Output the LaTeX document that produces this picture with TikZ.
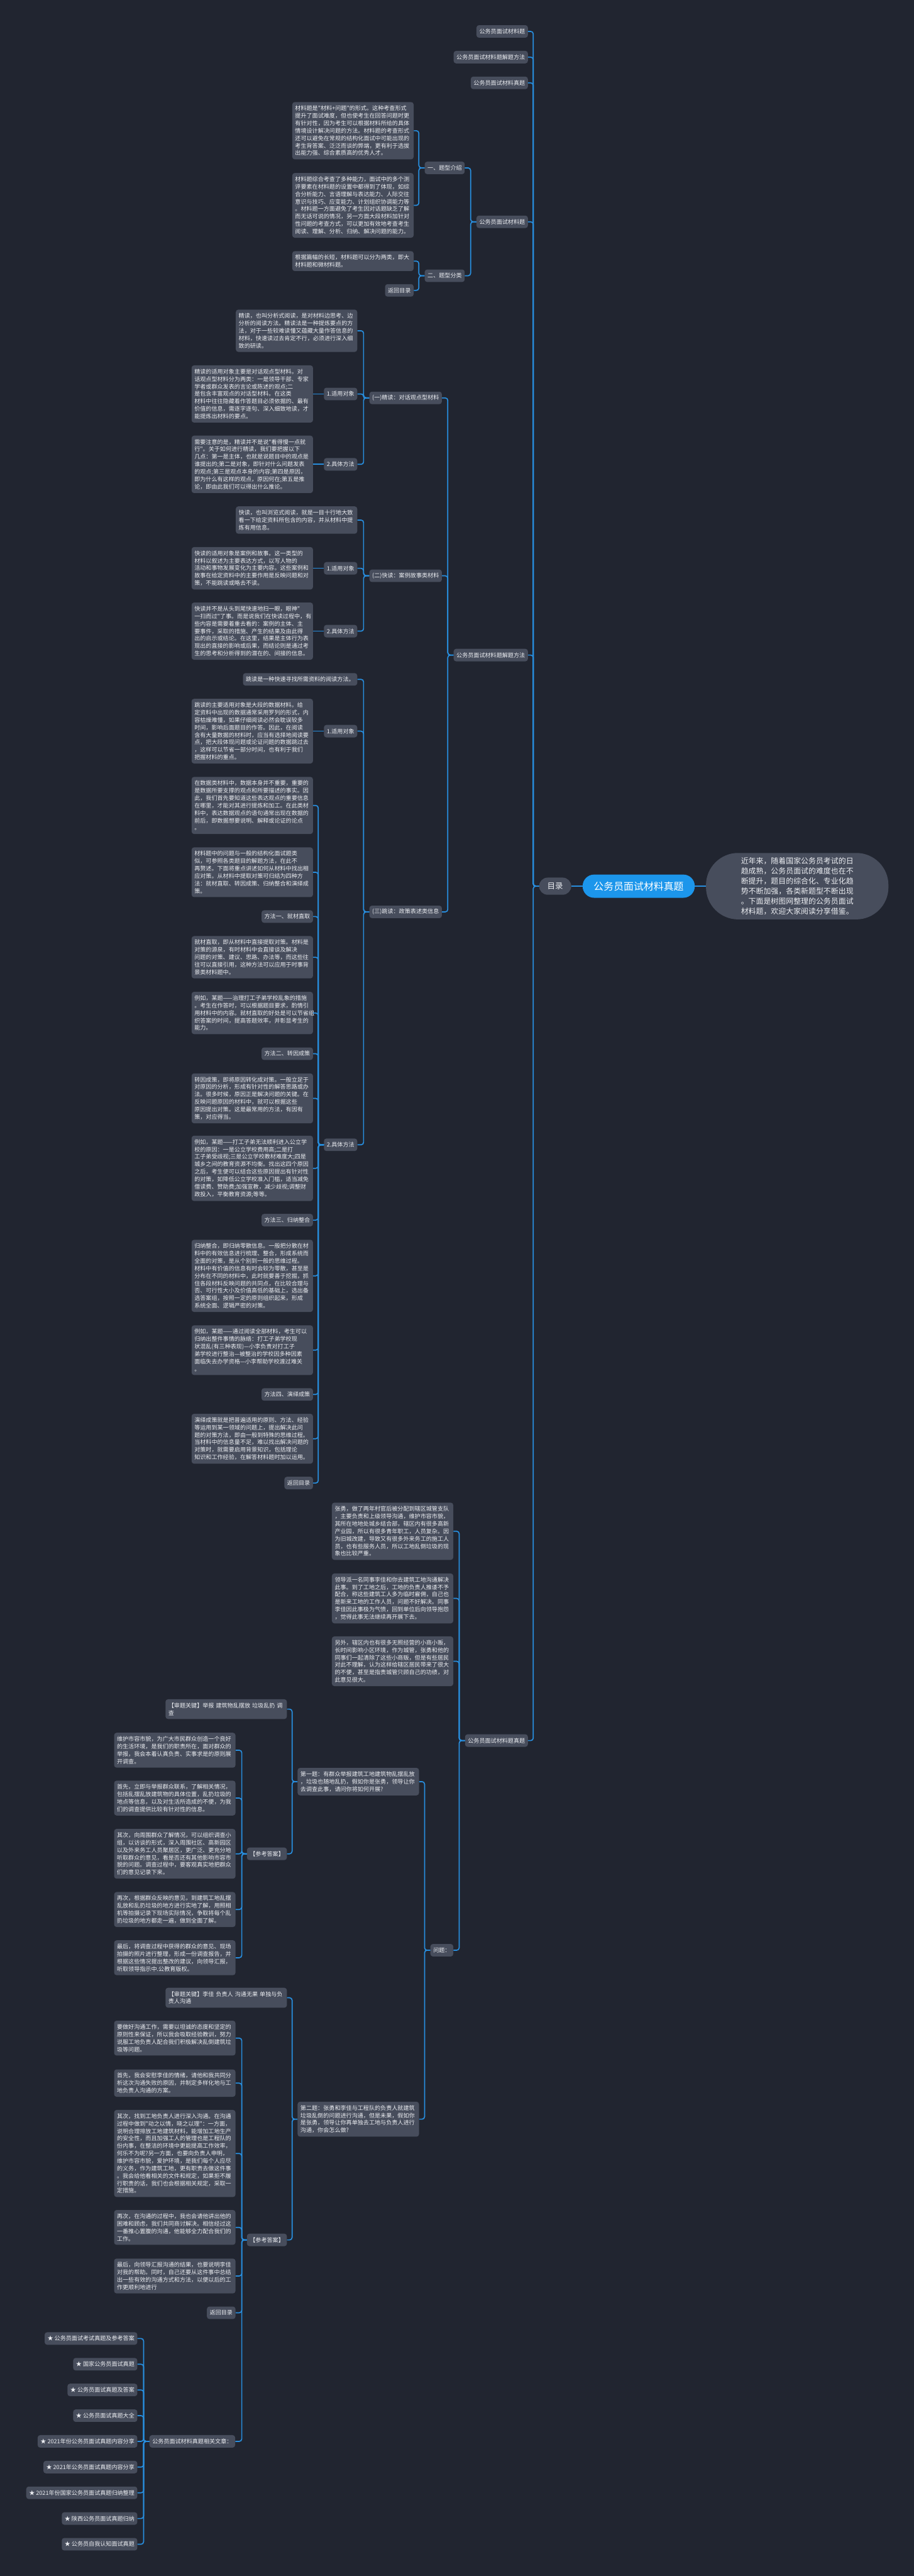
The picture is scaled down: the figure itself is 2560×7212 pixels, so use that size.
\documentclass[tikz,border=0pt]{standalone}
\usepackage{fontspec}
\newfontfamily\cjk{Noto Sans CJK SC}
\usetikzlibrary{positioning}
\definecolor{bgcol}{RGB}{33,37,48}
\definecolor{boxcol}{RGB}{71,77,92}
\definecolor{linkcol}{RGB}{40,142,222}
\definecolor{rootcol}{RGB}{28,150,235}
\definecolor{txtcol}{RGB}{236,238,242}

\begin{document}
\begin{tikzpicture}[x=0.5pt, y=-0.5pt,
    lab/.style = {fill=boxcol, text=txtcol, rounded corners=3.5pt, inner xsep=4pt, inner ysep=0pt, minimum height=17.5pt, font=\cjk\fontsize{8pt}{10.45pt}\selectfont},
    blk/.style = {lab, text width=162pt, align=left, inner ysep=5pt, minimum height=0pt},
    link/.style = {draw=linkcol, line width=1.5pt, rounded corners=3.5pt}]
                \tikzstyle{root} = [fill=rootcol, text=white, rounded corners=16pt, minimum height=32.5pt, inner xsep=15.5pt, font=\cjk\fontsize{14pt}{16pt}\selectfont]
                \tikzstyle{toc} = [fill=boxcol, text=txtcol, rounded corners=12pt, minimum height=24pt, inner xsep=11.5pt, font=\cjk\fontsize{11pt}{13pt}\selectfont]
                \tikzstyle{intro} = [fill=boxcol, text=txtcol, rounded corners=45pt, align=left, inner xsep=49pt, inner ysep=6.5pt, font=\cjk\fontsize{10.5pt}{14pt}\selectfont]

                \fill[bgcol] (0,0) rectangle (2560,7212);

                % centre: title, contents, introduction
                \node[root] (title) at (1789,2481) {公务员面试材料真题};
                \node[toc] (mulu) at (1555,2481) {目录};
                \node[intro] (desc) at (2233,2481) {近年来，随着国家公务员考试的日\\趋成熟，公务员面试的难度也在不\\断提升，题目的综合化、专业化趋\\势不断加强，各类新题型不断出现\\。下面是树图网整理的公务员面试\\材料题，欢迎大家阅读分享借鉴。};

                % contents entries
                \node[lab, anchor=east] (m1) at (1479,88) {公务员面试材料题};
                \node[lab, anchor=east] (m2) at (1479,160) {公务员面试材料题解题方法};
                \node[lab, anchor=east] (m3) at (1479,232) {公务员面试材料真题};
                \node[lab, anchor=east] (m4) at (1479,621) {公务员面试材料题};
                \node[lab, anchor=east] (m5) at (1479,1834) {公务员面试材料题解题方法};
                \node[lab, anchor=east] (m6) at (1479,4873) {公务员面试材料题真题};

                % question type
                \node[lab, anchor=east] (t1) at (1302,470) {一、题型介绍};
                \node[lab, anchor=east] (t2) at (1302,772) {二、题型分类};
                \node[blk, anchor=east] (a1) at (1159,366) {材料题是"材料+问题"的形式。这种考查形式\\提升了面试难度，但也使考生在回答问题时更\\有针对性，因为考生可以根据材料所给的具体\\情境设计解决问题的方法。材料题的考查形式\\还可以避免在常规的结构化面试中可能出现的\\考生背答案、泛泛而谈的弊端，更有利于选拔\\出能力强、综合素质高的优秀人才。};
                \node[blk, anchor=east] (a2) at (1159,575) {材料题综合考查了多种能力，面试中的多个测\\评要素在材料题的设置中都得到了体现，如综\\合分析能力、言语理解与表达能力、人际交往\\意识与技巧、应变能力、计划组织协调能力等\\。材料题一方面避免了考生因对话题缺乏了解\\而无话可说的情况，另一方面大段材料加针对\\性问题的考查方式，可以更加有效地考查考生\\阅读、理解、分析、归纳、解决问题的能力。};
                \node[blk, anchor=east] (a3) at (1159,731) {根据篇幅的长短，材料题可以分为两类，即大\\材料题和微材料题。};
                \node[lab, anchor=east] (a4) at (1159,813) {返回目录};

                % solving methods
                \node[lab, anchor=east] (j1) at (1238,1114) {(一)精读：对话观点型材料};
                \node[lab, anchor=east] (j2) at (1238,1612) {(二)快读：案例故事类材料};
                \node[lab, anchor=east] (j3) at (1238,2553) {(三)跳读：政策表述类信息};
                \node[blk, anchor=east] (b1) at (1001,926) {精读，也叫分析式阅读，是对材料边思考、边\\分析的阅读方法。精读法是一种提炼要点的方\\法，对于一些较难读懂又蕴藏大量作答信息的\\材料，快速读过去肯定不行，必须进行深入细\\致的研读。};
                \node[lab, anchor=east] (k1) at (1001,1103) {1.适用对象};
                \node[lab, anchor=east] (k2) at (1001,1300) {2.具体方法};
                \node[blk, anchor=east] (c1) at (877,1103) {精读的适用对象主要是对话观点型材料。对\\话观点型材料分为两类：一是领导干部、专家\\学者或群众发表的言论或陈述的观点;二\\是包含丰富观点的对话型材料。在这类\\材料中往往隐藏着作答题目必须依据的、最有\\价值的信息，需逐字逐句、深入细致地读，才\\能提炼出材料的要点。};
                \node[blk, anchor=east] (c2) at (877,1300) {需要注意的是，精读并不是说"看得慢一点就\\行"。关于如何进行精读，我们要把握以下\\几点：第一是主体，也就是说题目中的观点是\\谁提出的;第二是对象，即针对什么问题发表\\的观点;第三是观点本身的内容;第四是原因，\\即为什么有这样的观点，原因何在;第五是推\\论，即由此我们可以得出什么推论。};
                \node[blk, anchor=east] (b2) at (1001,1456) {快读，也叫浏览式阅读，就是一目十行地大致\\看一下给定资料所包含的内容，并从材料中提\\炼有用信息。};
                \node[lab, anchor=east] (k3) at (1001,1591) {1.适用对象};
                \node[lab, anchor=east] (k4) at (1001,1767) {2.具体方法};
                \node[blk, anchor=east] (c3) at (877,1591) {快读的适用对象是案例和故事。这一类型的\\材料以叙述为主要表达方式，以写人物的\\活动和事物发展变化为主要内容。这些案例和\\故事在给定资料中的主要作用是反映问题和对\\策，不能跳读或略去不读。};
                \node[blk, anchor=east] (c4) at (877,1767) {快读并不是从头到尾快速地扫一眼，眼神"\\一扫而过"了事。而是说我们在快读过程中，有\\些内容是需要着重去看的：案例的主体、主\\要事件，采取的措施、产生的结果及由此得\\出的启示或结论。在这里，结果是主体行为表\\现出的直接的影响或后果，而结论则是通过考\\生的思考和分析得到的潜在的、间接的信息。};
                \node[lab, anchor=east] (b3) at (1001,1902) {跳读是一种快速寻找所需资料的阅读方法。};
                \node[lab, anchor=east] (k5) at (1001,2047) {1.适用对象};
                \node[lab, anchor=east] (k6) at (1001,3205) {2.具体方法};
                \node[blk, anchor=east] (c5) at (877,2047) {跳读的主要适用对象是大段的数据材料。给\\定资料中出现的数据通常采用罗列的形式，内\\容枯燥难懂，如果仔细阅读必然会耽误较多\\时间，影响后面题目的作答。因此，在阅读\\含有大量数据的材料时，应当有选择地阅读要\\点，把大段体现问题或论证问题的数据跳过去\\，这样可以节省一部分时间，也有利于我们\\把握材料的重点。};
                \node[blk, anchor=east] (d1) at (877,2255) {在数据类材料中，数据本身并不重要，重要的\\是数据所要支撑的观点和所要描述的事实。因\\此，我们首先要知道这些表达观点的重要信息\\在哪里，才能对其进行提炼和加工。在此类材\\料中，表达数据观点的语句通常出现在数据的\\前后，即数据想要说明、解释或论证的论点\\。};
                \node[blk, anchor=east] (d2) at (877,2442) {材料题中的问题与一般的结构化面试题类\\似，可参照各类题目的解题方法，在此不\\再赘述。下面将重点讲述如何从材料中找出相\\应对策。从材料中提取对策可归结为四种方\\法：就材直取、转因成策、归纳整合和演绎成\\策。};
                \node[lab, anchor=east] (f1) at (877,2566) {方法一、就材直取};
                \node[blk, anchor=east] (d3) at (877,2680) {就材直取，即从材料中直接提取对策。材料是\\对策的源泉，有时材料中会直接谈及解决\\问题的对策、建议、思路、办法等，而这些往\\往可以直接引用，这种方法可以应用于时事背\\景类材料题中。};
                \node[blk, anchor=east] (d4) at (877,2836) {例如，某题——治理打工子弟学校乱象的措施\\。考生在作答时，可以根据题目要求，酌情引\\用材料中的内容。就材直取的好处是可以节省组\\织答案的时间，提高答题效率，并彰显考生的\\能力。};
                \node[lab, anchor=east] (f2) at (877,2950) {方法二、转因成策};
                \node[blk, anchor=east] (d5) at (877,3075) {转因成策，即将原因转化成对策。一般立足于\\对原因的分析，形成有针对性的解答思路或办\\法。很多时候，原因正是解决问题的关键。在\\反映问题原因的材料中，就可以根据这些\\原因提出对策。这是最常用的方法，有因有\\策，对应得当。};
                \node[blk, anchor=east] (d6) at (877,3271) {例如，某题——打工子弟无法顺利进入公立学\\校的原因：一是公立学校费用高;二是打\\工子弟受歧视;三是公立学校教材难度大;四是\\城乡之间的教育资源不均衡。找出这四个原因\\之后，考生便可以结合这些原因提出有针对性\\的对策，如降低公立学校准入门槛，适当减免\\借读费、赞助费;加强宣教，减少歧视;调整财\\政投入，平衡教育资源;等等。};
                \node[lab, anchor=east] (f3) at (877,3416) {方法三、归纳整合};
                \node[blk, anchor=east] (d7) at (877,3572) {归纳整合，即归纳零散信息。一般把分散在材\\料中的有效信息进行梳理、整合，形成系统而\\全面的对策，是从个别到一般的思维过程。\\材料中有价值的信息有时会较为零散，甚至是\\分布在不同的材料中，此时就要善于挖掘，抓\\住各段材料反映问题的共同点，在比较合理与\\否、可行性大小及价值高低的基础上，选出备\\选答案组，按照一定的原则组织起来，形成\\系统全面、逻辑严密的对策。};
                \node[blk, anchor=east] (d8) at (877,3780) {例如，某题——通过阅读全部材料，考生可以\\归纳出整件事情的脉络：打工子弟学校现\\状混乱(有三种表现)—小李负责对打工子\\弟学校进行整治—被整治的学校因多种因素\\面临失去办学资格—小李帮助学校渡过难关\\。};
                \node[lab, anchor=east] (f4) at (877,3904) {方法四、演绎成策};
                \node[blk, anchor=east] (d9) at (877,4028) {演绎成策就是把普遍适用的原则、方法、经验\\等运用到某一领域的问题上，提出解决此问\\题的对策方法，即由一般到特殊的思维过程。\\当材料中的信息量不足，难以找出解决问题的\\对策时，就需要启用背景知识，包括理论\\知识和工作经验，在解答材料题时加以运用。};
                \node[lab, anchor=east] (d10) at (877,4152) {返回目录};

                % real questions
                \node[blk, anchor=east] (z1) at (1270,4287) {张勇，做了两年村官后被分配到辖区城管支队\\，主要负责和上级领导沟通，维护市容市貌，\\其所在地地处城乡结合部，辖区内有很多高新\\产业园，所以有很多青年职工，人员复杂。因\\为旧城改建，导致又有很多外来务工的施工人\\员，也有些服务人员，所以工地乱倒垃圾的现\\象也比较严重。};
                \node[blk, anchor=east] (z2) at (1270,4475) {领导派一名同事李佳和你去建筑工地沟通解决\\此事。到了工地之后，工地的负责人推诿不予\\配合，称这些建筑工人多为临时雇佣，自己也\\是新来工地的工作人员，问题不好解决。同事\\李佳因此事极为气愤，回到单位后向领导抱怨\\，觉得此事无法继续再开展下去。};
                \node[blk, anchor=east] (z3) at (1270,4651) {另外，辖区内也有很多无照经营的小商小贩，\\长时间影响小区环境，作为城管，张勇和他的\\同事们一起清除了这些小商贩，但是有些居民\\对此不理解，认为这样给辖区居民带来了很大\\的不便，甚至是指责城管只顾自己的功绩，对\\此意见很大。};
                \node[lab, anchor=east] (q) at (1270,5460) {问题：};
                \node[blk, anchor=east] (w1) at (1174,4988) {第一题：有群众举报建筑工地建筑物乱摆乱放\\，垃圾也随地乱扔，假如你是张勇，领导让你\\去调查此事，请问你将如何开展?};
                \node[blk, anchor=east] (w2) at (1174,5933) {第二题：张勇和李佳与工程队的负责人就建筑\\垃圾乱倒的问题进行沟通，但是未果，假如你\\是张勇，领导让你再单独去工地与负责人进行\\沟通，你会怎么做?};
                \node[blk, anchor=east] (s1) at (804,4785) {【审题关键】举报 建筑物乱摆放 垃圾乱扔 调\\查};
                \node[lab, anchor=east] (r1) at (804,5190) {【参考答案】};
                \node[blk, anchor=east] (e1) at (660,4900) {维护市容市貌，为广大市民群众创造一个良好\\的生活环境，是我们的职责所在，面对群众的\\举报，我会本着认真负责、实事求是的原则展\\开调查。};
                \node[blk, anchor=east] (e2) at (660,5034) {首先，立即与举报群众联系，了解相关情况，\\包括乱摆乱放建筑物的具体位置，乱扔垃圾的\\地点等信息，以及对生活所造成的不便，为我\\们的调查提供比较有针对性的信息。};
                \node[blk, anchor=east] (e3) at (660,5190) {其次，向周围群众了解情况，可以组织调查小\\组，以访谈的形式，深入周围社区、高新园区\\以及外来务工人员聚居区，更广泛、更充分地\\听取群众的意见，看是否还有其他影响市容市\\貌的问题。调查过程中，要客观真实地把群众\\们的意见记录下来。};
                \node[blk, anchor=east] (e4) at (660,5346) {再次，根据群众反映的意见，到建筑工地乱摆\\乱放和乱扔垃圾的地方进行实地了解，用照相\\机等拍摄记录下现场实际情况，争取将每个乱\\扔垃圾的地方都走一遍，做到全面了解。};
                \node[blk, anchor=east] (e5) at (660,5481) {最后，将调查过程中获得的群众的意见、现场\\拍摄的照片进行整理，形成一份调查报告，并\\根据这些情况提出整改的建议，向领导汇报，\\听取领导指示中.公教育版权。};
                \node[blk, anchor=east] (s2) at (804,5593) {【审题关键】李佳 负责人 沟通无果 单独与负\\责人沟通};
                \node[lab, anchor=east] (r2) at (804,6271) {【参考答案】};
                \node[blk, anchor=east] (e6) at (660,5706) {要做好沟通工作，需要以坦诚的态度和坚定的\\原则性来保证，所以我会吸取经验教训，努力\\说服工地负责人配合我们积极解决乱倒建筑垃\\圾等问题。};
                \node[blk, anchor=east] (e7) at (660,5832) {首先，我会安慰李佳的情绪，请他和我共同分\\析这次沟通失败的原因，并制定多样化地与工\\地负责人沟通的方案。};
                \node[blk, anchor=east] (e8) at (660,6029) {其次，找到工地负责人进行深入沟通。在沟通\\过程中做到"动之以情，晓之以理"：一方面，\\说明合理排放工地建筑材料，能增加工地生产\\的安全性，而且加强工人的管理也是工程队的\\份内事，在整洁的环境中更能提高工作效率，\\何乐不为呢?另一方面，也要向负责人申明，\\维护市容市貌，爱护环境，是我们每个人应尽\\的义务，作为建筑工地，更有职责去做这件事\\。我会给他看相关的文件和规定，如果拒不履\\行职责的话，我们也会根据相关规定，采取一\\定措施。};
                \node[blk, anchor=east] (e9) at (660,6236) {再次，在沟通的过程中，我也会请他讲出他的\\困难和顾虑，我们共同商讨解决。相信经过这\\一番推心置腹的沟通，他能够全力配合我们的\\工作。};
                \node[blk, anchor=east] (e10) at (660,6372) {最后，向领导汇报沟通的结果，也要说明李佳\\对我的帮助。同时，自己还要从这件事中总结\\出一些有效的沟通方式和方法，以便以后的工\\作更顺利地进行};
                \node[lab, anchor=east] (g) at (660,6475) {返回目录};
                \node[lab, anchor=east] (h) at (659,6835) {公务员面试材料真题相关文章：};

                % related articles
                \node[lab, anchor=east] (x1) at (385,6547) {★ 公务员面试考试真题及参考答案};
                \node[lab, anchor=east] (x2) at (385,6619) {★ 国家公务员面试真题};
                \node[lab, anchor=east] (x3) at (385,6691) {★ 公务员面试真题及答案};
                \node[lab, anchor=east] (x4) at (385,6763) {★ 公务员面试真题大全};
                \node[lab, anchor=east] (x5) at (385,6835) {★ 2021年份公务员面试真题内容分享};
                \node[lab, anchor=east] (x6) at (385,6907) {★ 2021年公务员面试真题内容分享};
                \node[lab, anchor=east] (x7) at (385,6979) {★ 2021年份国家公务员面试真题归纳整理};
                \node[lab, anchor=east] (x8) at (385,7051) {★ 陕西公务员面试真题归纳};
                \node[lab, anchor=east] (x9) at (385,7123) {★ 公务员自我认知面试真题};

                \draw[link] (title.east) -- (desc.west);
                \draw[link] (title.west) -- (mulu.east);
                \draw[link] (mulu.west) -- ++(-16,0) |- (m1.east);
                \draw[link] (mulu.west) -- ++(-16,0) |- (m2.east);
                \draw[link] (mulu.west) -- ++(-16,0) |- (m3.east);
                \draw[link] (mulu.west) -- ++(-16,0) |- (m4.east);
                \draw[link] (mulu.west) -- ++(-16,0) |- (m5.east);
                \draw[link] (mulu.west) -- ++(-16,0) |- (m6.east);

                \draw[link] (m4.west) -- ++(-16,0) |- (t1.east);
                \draw[link] (m4.west) -- ++(-16,0) |- (t2.east);
                \draw[link] (t1.west) -- ++(-16,0) |- (a1.east);
                \draw[link] (t1.west) -- ++(-16,0) |- (a2.east);
                \draw[link] (t2.west) -- ++(-16,0) |- (a3.east);
                \draw[link] (t2.west) -- ++(-16,0) |- (a4.east);

                \draw[link] (m5.west) -- ++(-16,0) |- (j1.east);
                \draw[link] (m5.west) -- ++(-16,0) |- (j2.east);
                \draw[link] (m5.west) -- ++(-16,0) |- (j3.east);
                \draw[link] (j1.west) -- ++(-16,0) |- (b1.east);
                \draw[link] (j1.west) -- ++(-16,0) |- (k1.east);
                \draw[link] (j1.west) -- ++(-16,0) |- (k2.east);
                \draw[link] (k1.west) -- (c1.east);
                \draw[link] (k2.west) -- (c2.east);
                \draw[link] (j2.west) -- ++(-16,0) |- (b2.east);
                \draw[link] (j2.west) -- ++(-16,0) |- (k3.east);
                \draw[link] (j2.west) -- ++(-16,0) |- (k4.east);
                \draw[link] (k3.west) -- (c3.east);
                \draw[link] (k4.west) -- (c4.east);
                \draw[link] (j3.west) -- ++(-16,0) |- (b3.east);
                \draw[link] (j3.west) -- ++(-16,0) |- (k5.east);
                \draw[link] (j3.west) -- ++(-16,0) |- (k6.east);
                \draw[link] (k5.west) -- (c5.east);
                \draw[link] (k6.west) -- ++(-15.5,0) |- (d1.east);
                \draw[link] (k6.west) -- ++(-15.5,0) |- (d2.east);
                \draw[link] (k6.west) -- ++(-15.5,0) |- (f1.east);
                \draw[link] (k6.west) -- ++(-15.5,0) |- (d3.east);
                \draw[link] (k6.west) -- ++(-15.5,0) |- (d4.east);
                \draw[link] (k6.west) -- ++(-15.5,0) |- (f2.east);
                \draw[link] (k6.west) -- ++(-15.5,0) |- (d5.east);
                \draw[link] (k6.west) -- ++(-15.5,0) |- (d6.east);
                \draw[link] (k6.west) -- ++(-15.5,0) |- (f3.east);
                \draw[link] (k6.west) -- ++(-15.5,0) |- (d7.east);
                \draw[link] (k6.west) -- ++(-15.5,0) |- (d8.east);
                \draw[link] (k6.west) -- ++(-15.5,0) |- (f4.east);
                \draw[link] (k6.west) -- ++(-15.5,0) |- (d9.east);
                \draw[link] (k6.west) -- ++(-15.5,0) |- (d10.east);

                \draw[link] (m6.west) -- ++(-16,0) |- (z1.east);
                \draw[link] (m6.west) -- ++(-16,0) |- (z2.east);
                \draw[link] (m6.west) -- ++(-16,0) |- (z3.east);
                \draw[link] (m6.west) -- ++(-16,0) |- (q.east);
                \draw[link] (q.west) -- ++(-16,0) |- (w1.east);
                \draw[link] (q.west) -- ++(-16,0) |- (w2.east);
                \draw[link] (w1.west) -- ++(-15,0) |- (s1.east);
                \draw[link] (w1.west) -- ++(-15,0) |- (r1.east);
                \draw[link] (r1.west) -- ++(-14,0) |- (e1.east);
                \draw[link] (r1.west) -- ++(-14,0) |- (e2.east);
                \draw[link] (r1.west) -- ++(-14,0) |- (e3.east);
                \draw[link] (r1.west) -- ++(-14,0) |- (e4.east);
                \draw[link] (r1.west) -- ++(-14,0) |- (e5.east);
                \draw[link] (w2.west) -- ++(-15,0) |- (s2.east);
                \draw[link] (w2.west) -- ++(-15,0) |- (r2.east);
                \draw[link] (r2.west) -- ++(-14,0) |- (e6.east);
                \draw[link] (r2.west) -- ++(-14,0) |- (e7.east);
                \draw[link] (r2.west) -- ++(-14,0) |- (e8.east);
                \draw[link] (r2.west) -- ++(-14,0) |- (e9.east);
                \draw[link] (r2.west) -- ++(-14,0) |- (e10.east);
                \draw[link] (r2.west) -- ++(-14,0) |- (g.east);
                \draw[link] (r2.west) -- ++(-14,0) |- (h.east);

                \draw[link] (h.west) -- ++(-16,0) |- (x1.east);
                \draw[link] (h.west) -- ++(-16,0) |- (x2.east);
                \draw[link] (h.west) -- ++(-16,0) |- (x3.east);
                \draw[link] (h.west) -- ++(-16,0) |- (x4.east);
                \draw[link] (h.west) -- ++(-16,0) |- (x5.east);
                \draw[link] (h.west) -- ++(-16,0) |- (x6.east);
                \draw[link] (h.west) -- ++(-16,0) |- (x7.east);
                \draw[link] (h.west) -- ++(-16,0) |- (x8.east);
                \draw[link] (h.west) -- ++(-16,0) |- (x9.east);
            \end{tikzpicture}
\end{document}
